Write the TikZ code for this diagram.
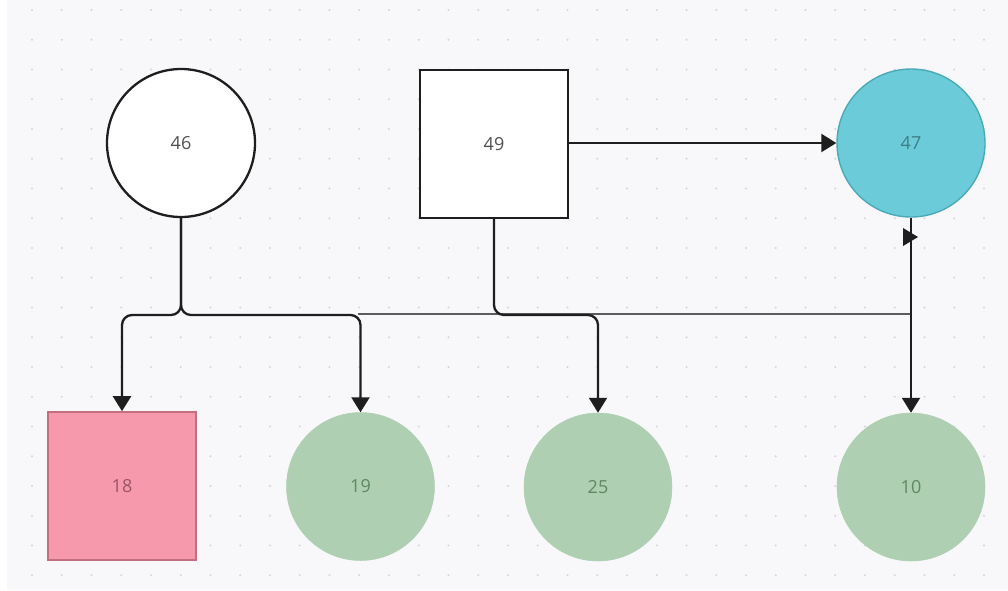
\documentclass[tikz,border=0pt]{standalone}
\usepackage{fontspec}
\setmainfont{Open Sans}
\usetikzlibrary{arrows.meta}
\definecolor{bg}{HTML}{F8F8FA}
\definecolor{dotc}{HTML}{D6D6DA}
\definecolor{linec}{HTML}{1E1E1E}
\definecolor{grayl}{HTML}{5C5C5C}
\definecolor{tealf}{HTML}{6BCBD9}
\definecolor{teald}{HTML}{4AAAB8}
\definecolor{tealt}{HTML}{3E7E88}
\definecolor{pinkf}{HTML}{F799AD}
\definecolor{pinkd}{HTML}{C46E82}
\definecolor{pinkt}{HTML}{9B5566}
\definecolor{greenf}{HTML}{AECFB2}
\definecolor{greent}{HTML}{5F8864}
\definecolor{txt}{HTML}{505050}
\tikzset{
  base/.style={inner sep=0pt, font=\fontsize{18}{21}\selectfont},
  circ/.style={base, circle, minimum size=148pt},
  sq/.style={base, rectangle, minimum size=148pt},
  whitenode/.style={fill=white, draw=linec, line width=2.3pt, text=txt},
  tealnode/.style={fill=tealf, draw=teald, line width=1.4pt, text=tealt},
  pinknode/.style={fill=pinkf, draw=pinkd, line width=1.6pt, text=pinkt},
  greennode/.style={fill=greenf, draw=greenf, line width=0.5pt, text=greent},
  conn/.style={draw=linec, line width=2.3pt, rounded corners=10pt},
  arr/.style={conn, -{Triangle[length=15pt,width=18pt]}},
  faint/.style={draw=grayl, line width=1.8pt},
}
\begin{document}
\begin{tikzpicture}[x=1pt,y=-1pt]
\useasboundingbox (0,0) rectangle (1008,590);
\fill[bg] (7,0) rectangle (1008,590);
\foreach \i in {0,...,33}{
  \foreach \j in {0,...,19}{
    \fill[dotc] ({32+29.75*\i},{10+29.75*\j}) circle (1.1);
  }
}
% nodes
\node[circ, whitenode] (n46) at (181,143) {46};
\node[sq, whitenode] (n49) at (494,144) {49};
\node[circ, tealnode] (n47) at (911,143) {47};
\node[sq, pinknode] (n18) at (122,486) {18};
\node[circ, greennode] (n19) at (360.5,486.5) {19};
\node[circ, greennode] (n25) at (598,487) {25};
\node[circ, greennode] (n10) at (911,487) {10};
% connectors
\coordinate (g1) at (358,314);
\draw[faint] (g1) -- (g1 -| n47.south);
\coordinate (j46) at (181,315);
\coordinate (j49) at (494,315);
\draw[arr] (n46.south) -- (j46) -| (n18.north);
\draw[arr] (n46.south) -- (j46) -| (n19.north);
\draw[arr] (n49.south) -- (j49) -| (n25.north);
\draw[arr] (n49.east |- 0,143) -- (n47.west);
\draw[arr] (n47.south) -- (n10.north);
\fill[linec] (903,228) -- (918,237) -- (903,246) -- cycle;
\end{tikzpicture}
\end{document}
